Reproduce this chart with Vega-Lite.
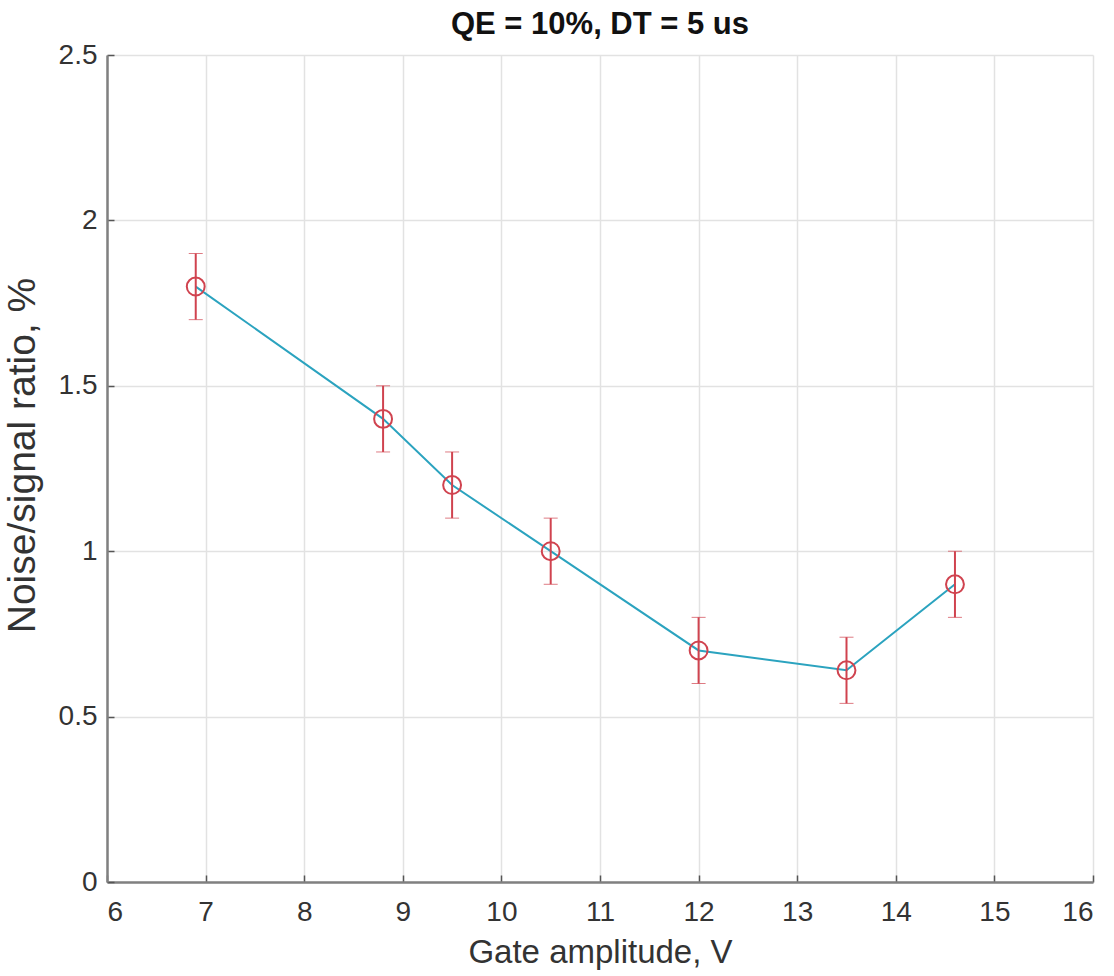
{
  "$schema": "https://vega.github.io/schema/vega-lite/v6.json",
  "width": 986,
  "height": 827,
  "autosize": {"type": "none"},
  "padding": {"left": 107, "top": 55, "right": 21, "bottom": 94},
  "background": "white",
  "title": {
    "text": "QE = 10%, DT = 5 us",
    "font": "Liberation Sans",
    "fontSize": 31,
    "fontWeight": "bold",
    "color": "#111111",
    "anchor": "middle",
    "offset": 0
  },
  "config": {
    "view": {"stroke": null},
    "axis": {
      "labelFont": "Liberation Sans",
      "titleFont": "Liberation Sans",
      "labelFontSize": 28,
      "titleFontSize": 33,
      "labelColor": "#333333",
      "titleColor": "#333333",
      "titleFontWeight": "normal",
      "domainColor": "#808080",
      "domainWidth": 2.5,
      "tickColor": "#555555",
      "tickWidth": 1.5,
      "tickSize": -7,
      "gridColor": "#e2e2e2",
      "gridWidth": 1.5
    }
  },
  "data": {
    "values": [
      {"x": 6.9, "y": 1.8, "lo": 1.7, "hi": 1.9},
      {"x": 8.8, "y": 1.4, "lo": 1.3, "hi": 1.5},
      {"x": 9.5, "y": 1.2, "lo": 1.1, "hi": 1.3},
      {"x": 10.5, "y": 1.0, "lo": 0.9, "hi": 1.1},
      {"x": 12.0, "y": 0.7, "lo": 0.6, "hi": 0.8},
      {"x": 13.5, "y": 0.64, "lo": 0.54, "hi": 0.74},
      {"x": 14.6, "y": 0.9, "lo": 0.8, "hi": 1.0}
    ]
  },
  "encoding": {
    "x": {
      "field": "x",
      "type": "quantitative",
      "scale": {"domain": [6, 16], "nice": false, "zero": false},
      "axis": {"title": "Gate amplitude, V", "values": [6,7,8,9,10,11,12,13,14,15,16], "labelPadding": 23, "titlePadding": 10}
    },
    "y": {
      "field": "y",
      "type": "quantitative",
      "scale": {"domain": [0, 2.5], "nice": false},
      "axis": {"title": "Noise/signal ratio, %", "values": [0,0.5,1,1.5,2,2.5], "format": "~g", "labelPadding": 17, "titlePadding": 16, "titleFontSize": 39, "titleY": 400}
    }
  },
  "layer": [
    {
      "mark": {"type": "line", "color": "#2ba3bf", "strokeWidth": 2}
    },
    {
      "mark": {"type": "errorbar", "ticks": {"size": 14, "color": "#d0434f", "strokeWidth": 2}, "rule": {"color": "#d0434f", "strokeWidth": 2}},
      "encoding": {
        "y": {"field": "lo", "type": "quantitative"},
        "y2": {"field": "hi"}
      }
    },
    {
      "mark": {"type": "point", "shape": "circle", "filled": false, "color": "#d0434f", "size": 320, "strokeWidth": 2, "opacity": 1}
    }
  ]
}
